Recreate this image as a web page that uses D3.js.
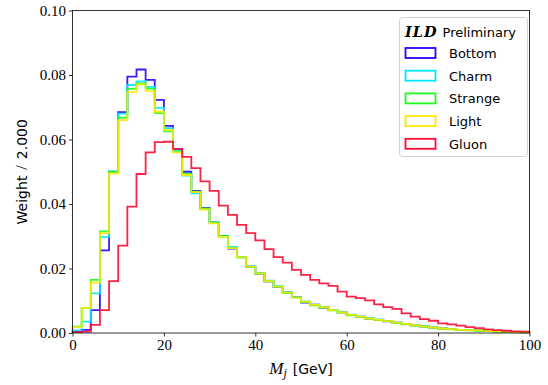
<!DOCTYPE html>
<html lang="en">
<head>
    <title>ILD jet mass</title>
    <style>
        body { margin: 0; background: #fff; }
        .tick text { font-family: "Liberation Serif", serif; font-size: 15px; fill: #000; }
        .tick line, .domain { stroke: #000; stroke-width: 0.8; }
        .hist { fill: none; stroke-width: 1.8; stroke-opacity: 0.9; }
        .lab { font-family: "DejaVu Sans", sans-serif; font-size: 14px; }
        .leg text { font-family: "DejaVu Sans", sans-serif; font-size: 13px; }
    </style>
</head>
<body>
<div id="chart"></div>
<script src="https://d3js.org/d3.v7.min.js"></script>
<script>
    // bin edges 0..100, width 2
    var binEdges = d3.range(0, 101, 2);
    var xTicks = [0, 20, 40, 60, 80, 100];
    var yTicks = [0, 0.02, 0.04, 0.06, 0.08, 0.10];

    var names = ["Bottom", "Charm", "Strange", "Light", "Gluon"];
    var colors = ["#2a00ff", "#00e8ff", "#19ff19", "#ffe800", "#ff0a33"];

    var bottom = [0.0005, 0.0010, 0.0071, 0.0256, 0.0500, 0.0685, 0.0795, 0.0817, 0.0785, 0.0723,
        0.0642, 0.0571, 0.0500, 0.0441, 0.0388, 0.0343, 0.0301, 0.0262, 0.0236, 0.0206,
        0.0184, 0.0160, 0.0143, 0.0126, 0.0111, 0.0094, 0.0088, 0.0079, 0.0071, 0.0064,
        0.0056, 0.0051, 0.0045, 0.0041, 0.0036, 0.0032, 0.0028, 0.0024, 0.0020, 0.0017,
        0.0014, 0.0012, 0.0010, 0.0009, 0.0008, 0.0006, 0.0005, 0.0004, 0.0003, 0.0002];
    var charm = [0.0008, 0.0035, 0.0123, 0.0297, 0.0500, 0.0680, 0.0769, 0.0780, 0.0763, 0.0698,
        0.0635, 0.0565, 0.0488, 0.0433, 0.0385, 0.0343, 0.0300, 0.0267, 0.0236, 0.0207,
        0.0186, 0.0162, 0.0145, 0.0127, 0.0111, 0.0098, 0.0088, 0.0081, 0.0072, 0.0065,
        0.0057, 0.0051, 0.0046, 0.0042, 0.0037, 0.0032, 0.0028, 0.0024, 0.0021, 0.0017,
        0.0014, 0.0012, 0.0010, 0.0009, 0.0008, 0.0006, 0.0005, 0.0004, 0.0003, 0.0002];
    var strange = [0.0020, 0.0077, 0.0165, 0.0315, 0.0500, 0.0668, 0.0757, 0.0774, 0.0758, 0.0682,
        0.0625, 0.0562, 0.0494, 0.0438, 0.0386, 0.0342, 0.0300, 0.0264, 0.0234, 0.0205,
        0.0184, 0.0160, 0.0144, 0.0124, 0.0110, 0.0096, 0.0086, 0.0079, 0.0070, 0.0063,
        0.0055, 0.0050, 0.0044, 0.0040, 0.0037, 0.0031, 0.0027, 0.0023, 0.0020, 0.0016,
        0.0013, 0.0011, 0.0010, 0.0008, 0.0007, 0.0006, 0.0005, 0.0004, 0.0003, 0.0002];
    var light = [0.0018, 0.0077, 0.0156, 0.0310, 0.0495, 0.0660, 0.0747, 0.0771, 0.0750, 0.0686,
        0.0630, 0.0560, 0.0490, 0.0437, 0.0383, 0.0340, 0.0298, 0.0263, 0.0235, 0.0206,
        0.0185, 0.0161, 0.0144, 0.0125, 0.0110, 0.0097, 0.0087, 0.0080, 0.0071, 0.0064,
        0.0056, 0.0051, 0.0045, 0.0041, 0.0037, 0.0032, 0.0028, 0.0024, 0.0020, 0.0017,
        0.0014, 0.0012, 0.0010, 0.0009, 0.0008, 0.0006, 0.0005, 0.0004, 0.0003, 0.0002];
    var gluon = [0.0003, 0.0004, 0.0025, 0.0071, 0.0161, 0.0271, 0.0392, 0.0493, 0.0560, 0.0592,
        0.0593, 0.0571, 0.0546, 0.0511, 0.0470, 0.0441, 0.0395, 0.0366, 0.0335, 0.0310,
        0.0287, 0.0260, 0.0235, 0.0218, 0.0196, 0.0180, 0.0165, 0.0154, 0.0146, 0.0128,
        0.0113, 0.0108, 0.0101, 0.0089, 0.0080, 0.0075, 0.0061, 0.0051, 0.0043, 0.0038,
        0.0030, 0.0027, 0.0023, 0.0018, 0.0015, 0.0011, 0.0009, 0.0007, 0.0005, 0.0004];

    var series = [bottom, charm, strange, light, gluon];

    var width = 548, height = 385;
    var margin = {top: 10.5, right: 18.5, bottom: 52, left: 72.5};
    var w = width - margin.left - margin.right,
        h = height - margin.top - margin.bottom;

    var svg = d3.select("#chart").append("svg")
        .attr("width", width).attr("height", height);
    var g = svg.append("g").attr("transform", "translate(" + margin.left + "," + margin.top + ")");

    var x = d3.scaleLinear().domain([0, 100]).range([0, w]);
    var y = d3.scaleLinear().domain([0, 0.10]).range([h, 0]);

    g.append("defs").append("clipPath").attr("id", "clip")
        .append("rect").attr("x", -1).attr("y", 0).attr("width", w + 2).attr("height", h + 1);

    // step outline like histtype='step'
    function stepPoints(vals) {
        var pts = [[binEdges[0], 0]];
        vals.forEach(function (v, i) {
            pts.push([binEdges[i], v]);
            pts.push([binEdges[i + 1], v]);
        });
        pts.push([binEdges[binEdges.length - 1], 0]);
        return pts;
    }
    var line = d3.line().x(function (d) { return x(d[0]); }).y(function (d) { return y(d[1]); });

    g.append("g").attr("clip-path", "url(#clip)")
        .selectAll("path").data(series).enter().append("path")
        .attr("class", "hist")
        .attr("stroke", function (d, i) { return colors[i]; })
        .attr("d", function (d) { return line(stepPoints(d)); });

    // frame
    g.append("rect").attr("width", w).attr("height", h)
        .attr("fill", "none").attr("stroke", "#000").attr("stroke-width", 0.8);

    var xAxis = g.append("g").attr("transform", "translate(0," + h + ")")
        .call(d3.axisBottom(x).tickValues(xTicks).tickSize(3.5).tickPadding(3).tickFormat(d3.format("d")));
    var yAxis = g.append("g")
        .call(d3.axisLeft(y).tickValues(yTicks).tickSize(3.5).tickPadding(3).tickFormat(d3.format(".2f")));
    xAxis.select(".domain").remove();
    yAxis.select(".domain").remove();

    // axis labels
    var yl = svg.append("text").attr("class", "lab")
        .attr("transform", "translate(27," + (margin.top + h / 2) + ") rotate(-90)")
        .attr("text-anchor", "middle");
    yl.append("tspan").text("Weight");
    yl.append("tspan").attr("font-family", "Liberation Serif, serif").attr("font-size", 16)
        .attr("dx", 6).text("/");
    yl.append("tspan").attr("dx", 6).text("2.000");

    var xl = svg.append("text").attr("x", margin.left + w / 2).attr("y", 374)
        .attr("text-anchor", "middle");
    xl.append("tspan").attr("font-family", "Liberation Serif, serif").attr("font-style", "italic")
        .attr("font-size", 17).text("M");
    xl.append("tspan").attr("font-family", "Liberation Serif, serif").attr("font-style", "italic")
        .attr("font-size", 12).attr("dy", 3).text("j");
    xl.append("tspan").attr("font-family", "DejaVu Sans, sans-serif").attr("font-size", 14)
        .attr("dy", -3).attr("dx", 6).text("[GeV]");

    // legend
    var leg = svg.append("g").attr("class", "leg");
    leg.append("rect").attr("x", 399.5).attr("y", 17.5).attr("width", 128).attr("height", 139)
        .attr("rx", 3).attr("fill", "#fff").attr("fill-opacity", 0.8)
        .attr("stroke", "#d0d0d0").attr("stroke-width", 1);
    var title = leg.append("text").attr("x", 405).attr("y", 37);
    title.append("tspan").attr("font-family", "DejaVu Serif, serif").attr("font-weight", "bold")
        .attr("font-style", "italic").attr("font-size", 14.5).attr("letter-spacing", 1).text("ILD");
    title.append("tspan").attr("dx", 5).text("Preliminary");

    var rows = leg.selectAll("g.row").data(names).enter().append("g").attr("class", "row")
        .attr("transform", function (d, i) { return "translate(0," + (53 + i * 22.7) + ")"; });
    rows.append("rect").attr("x", 405.5).attr("y", -5).attr("width", 30).attr("height", 10)
        .attr("fill", "none").attr("stroke-width", 1.8)
        .attr("stroke", function (d, i) { return colors[i]; });
    rows.append("text").attr("x", 449).attr("y", 5).text(function (d) { return d; });
</script>
</body>
</html>
